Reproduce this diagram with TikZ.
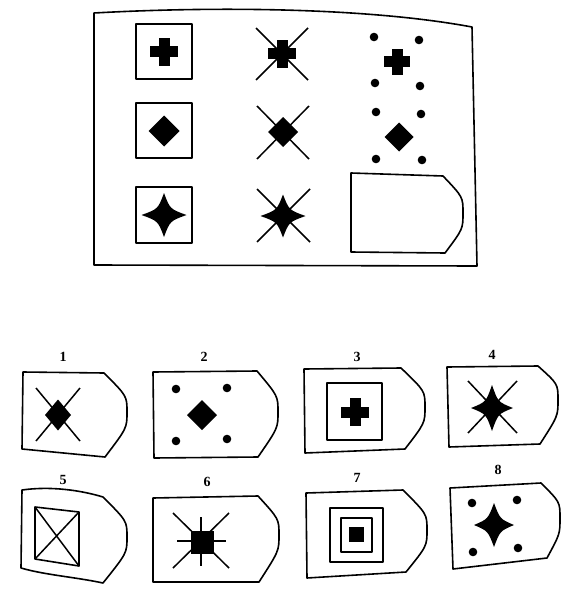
\documentclass[tikz,border=0pt]{standalone}
\usepackage{fontspec}
\setmainfont{Liberation Serif}
\usetikzlibrary{calc}
\tikzset{frame/.style={line width=1.6pt,line join=round},
  xl/.style={line width=1.5pt},
  lbl/.style={font=\fontsize{14}{14}\selectfont\bfseries,inner sep=0pt}}
\newcommand\plusfig[3]{\fill (#1-#3,#2-5.5) rectangle (#1+#3,#2+5.5);\fill (#1-5.5,#2-#3) rectangle (#1+5.5,#2+#3);}
\newcommand\diamfig[4]{\fill (#1+#3,#2) -- (#1,#2-#4) -- (#1-#3,#2) -- (#1,#2+#4) -- cycle;}
\newcommand\starfig[4]{\fill (#1+#3,#2) .. controls (#1+6,#2-6) .. (#1,#2-#4) .. controls (#1-6,#2-6) .. (#1-#3,#2) .. controls (#1-6,#2+6) .. (#1,#2+#4) .. controls (#1+6,#2+6) .. (#1+#3,#2) -- cycle;}
\newcommand\xfig[4]{\draw[xl] (#1,#2) -- (#3,#4) (#3,#2) -- (#1,#4);}
\newcommand\dotfig[2]{\fill (#1,#2) circle[radius=4.3pt];}
\newcommand\badge[5]{\draw[frame] (#1) -- (#2) .. controls ($(#3)+(0,-16)$) .. (#3) .. controls ($(#3)+(0,16)$) .. (#4) -- (#5) -- cycle;}
\begin{document}
\begin{tikzpicture}[x=1pt,y=-1pt]
\useasboundingbox (0,0) rectangle (566,594);
% main frame
\draw[frame] (94,13) .. controls (220,6) and (370,8) .. (472,27) -- (477,266) -- (94,265) -- cycle;
% row 1
\draw[frame] (136,24) rectangle (192,79);
\plusfig{164}{52}{14}
\xfig{256}{28}{308}{80}
\plusfig{282}{54}{14}
\dotfig{374}{37}\dotfig{419}{40}\dotfig{375}{83}\dotfig{420}{86}
\plusfig{397}{62}{13}
% row 2
\draw[frame] (136,103) rectangle (192,158);
\diamfig{164}{131}{15.5}{15.5}
\xfig{257}{106}{309}{159}
\diamfig{283}{132}{15}{15}
\dotfig{376}{112}\dotfig{421}{114}\dotfig{376}{159}\dotfig{422}{160}
\diamfig{399}{137}{14.5}{14.5}
% row 3
\draw[frame] (136,187) rectangle (192,243);
\starfig{164}{215}{22.5}{22}
\xfig{257}{189}{310}{242}
\starfig{283}{216}{22.5}{21.5}
\badge{351,173}{443,176}{463,213}{445,253}{351,252}
% options labels
\node[lbl] (l1) at (63,357) {1};
\node[lbl] (l2) at (204,357) {2};
\node[lbl] (l3) at (357,357) {3};
\node[lbl] (l4) at (492,355) {4};
\node[lbl] (l5) at (63,480) {5};
\node[lbl] (l6) at (207,482) {6};
\node[lbl] (l7) at (357,478) {7};
\node[lbl] (l8) at (498,470) {8};
% option 1
\badge{23,372}{104,373}{127,412}{105,457}{22,449}
\xfig{36}{388}{80}{441}
\diamfig{58}{415}{13}{15.5}
% option 2
\badge{153,372}{257,371}{278,412}{258,457}{154,458}
\dotfig{176}{389}\dotfig{227}{388}\dotfig{176}{441}\dotfig{227}{439}
\diamfig{202}{415}{15}{15}
% option 3
\badge{304,369}{401,368}{425,407}{405,449}{305,453}
\draw[frame] (327,383) rectangle (382,440);
\plusfig{355}{412}{14}
% option 4
\badge{447,367}{538,366}{558,400}{540,444}{449,447}
\xfig{468}{381}{517}{433}
\starfig{492}{408}{21}{23}
% option 5
\draw[frame] (22,490) .. controls (50,486) and (80,490) .. (103,497) .. controls ($(127,537)+(0,-16)$) .. (127,537) .. controls ($(127,537)+(0,16)$) .. (103,583) .. controls (75,577) and (45,575) .. (21,568) -- cycle;
\draw[frame] (35,507) -- (79,512) -- (79,566) -- (35,559) -- cycle;
\draw[xl] (35,507) -- (79,566) (79,512) -- (35,559);
% option 6
\badge{153,498}{258,496}{279,535}{259,582}{153,582}
\xfig{173}{513}{229}{568}
\draw[xl] (201,517) -- (201,566) (177,541) -- (226,541);
\fill (190.5,530.5) rectangle (213.5,553.5);
% option 7
\badge{306,493}{403,490}{427,530}{406,572}{307,578}
\draw[frame] (330,508) rectangle (383,562);
\draw[frame] (341,518) rectangle (372,552);
\fill (349,527) rectangle (364,542);
% option 8
\badge{450,488}{541,483}{560,518}{547,558}{453,569}
\dotfig{472}{503}\dotfig{517}{500}\dotfig{473}{552}\dotfig{518}{548}
\starfig{494}{525}{20}{22}
\end{tikzpicture}
\end{document}
